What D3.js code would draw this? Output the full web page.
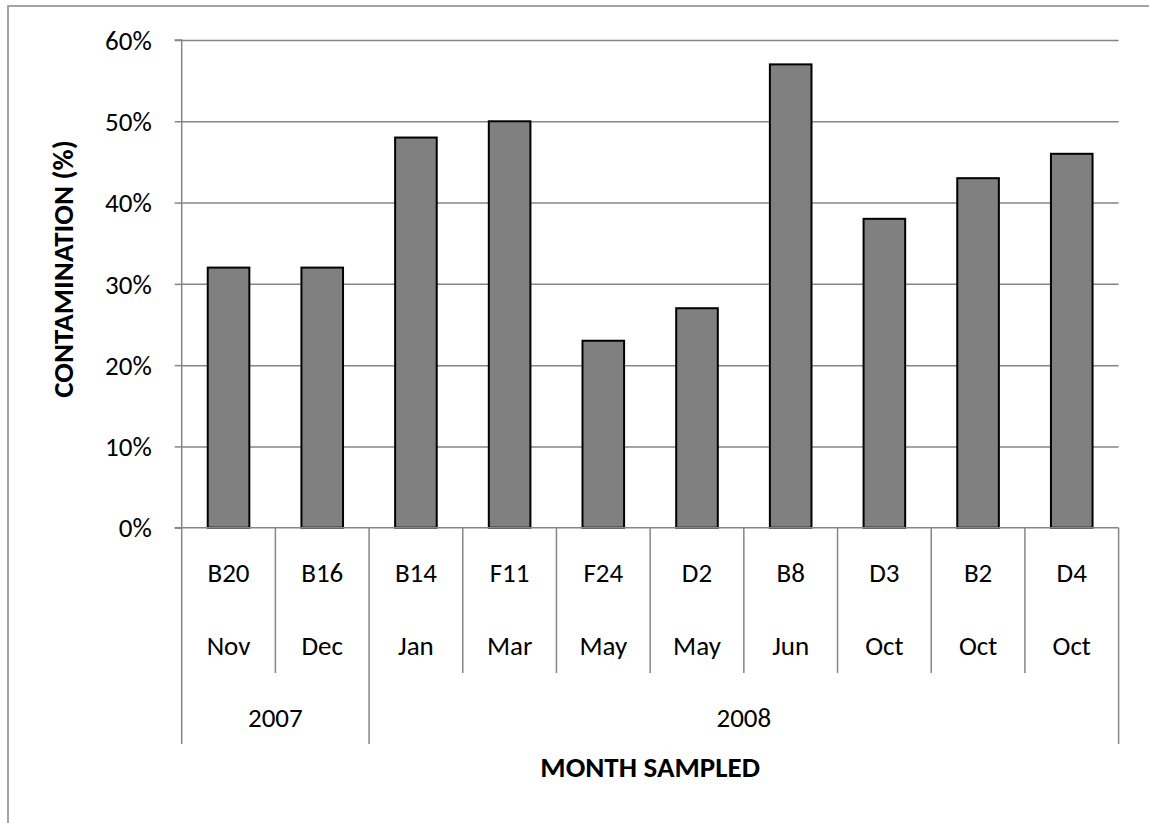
<!DOCTYPE html>
<html>
<head>
<meta charset="utf-8">
<script src="https://cdn.jsdelivr.net/npm/d3@7"></script>
<style>
  html, body { margin: 0; padding: 0; background: #fff; }
  svg { display: block; }
  text { font-family: Carlito, Calibri, Lato, "Open Sans", sans-serif; fill: #000; }
</style>
</head>
<body>
<svg id="chart" width="1149" height="823"></svg>
<script>
// ---- data ----
const sites = ["B20", "B16", "B14", "F11", "F24", "D2", "B8", "D3", "B2", "D4"];
const months = ["Nov", "Dec", "Jan", "Mar", "May", "May", "Jun", "Oct", "Oct", "Oct"];
const years = ["2007", "2007", "2008", "2008", "2008", "2008", "2008", "2008", "2008", "2008"];
const contamination = [0.32, 0.32, 0.48, 0.50, 0.23, 0.27, 0.57, 0.38, 0.43, 0.46];
const yTicks = [0, 0.1, 0.2, 0.3, 0.4, 0.5, 0.6];
const yTitle = "CONTAMINATION (%)";
const xTitle = "MONTH SAMPLED";

// ---- layout ----
const W = 1149, H = 823;
const plot = { left: 181.7, right: 1118.6, top: 40, bottom: 527.7 };
const gridColor = "#868686";
const fs = "27px", fsBold = "29px";

const svg = d3.select("#chart");
svg.append("rect").attr("width", W).attr("height", H).attr("fill", "#fff");

// outer chart border (extends past right/bottom edges)
svg.append("rect")
  .attr("x", 8).attr("y", 6).attr("width", 1300).attr("height", 1000)
  .attr("fill", "none").attr("stroke", gridColor).attr("stroke-width", 1.5);

const idx = d3.range(sites.length);
const x = d3.scaleBand().domain(idx).range([plot.left, plot.right])
  .paddingInner(0.556).paddingOuter(0.278);
const step = x.step();
const y = d3.scaleLinear().domain([0, 0.6]).range([plot.bottom, plot.top]);

// gridlines
const grid = svg.append("g").attr("transform", `translate(${plot.left},0)`)
  .call(d3.axisLeft(y).tickValues(yTicks.filter(d => d > 0)).tickSize(-(plot.right - plot.left)).tickFormat(""));
grid.select(".domain").remove();
grid.selectAll("line").attr("stroke", gridColor).attr("stroke-width", 1.5);

// y axis
const yAxis = svg.append("g").attr("transform", `translate(${plot.left},0)`)
  .call(d3.axisLeft(y).tickValues(yTicks).tickSize(7).tickPadding(23).tickFormat(d3.format(".0%")));
yAxis.select(".domain").attr("stroke", gridColor).attr("stroke-width", 1.5).attr("d", `M-7,${plot.top}H0V${plot.bottom}H-7`);
yAxis.selectAll(".tick line").attr("stroke", gridColor).attr("stroke-width", 1.5);
yAxis.selectAll(".tick text")
  .style("font-family", "Carlito, Calibri, Lato, sans-serif")
  .style("font-size", fs).attr("fill", "#000").attr("dy", "0.34em");

// bars
svg.append("g").selectAll("rect").data(idx).join("rect")
  .attr("x", i => x(i))
  .attr("width", x.bandwidth())
  .attr("y", i => y(contamination[i]))
  .attr("height", i => y(0) - y(contamination[i]))
  .attr("fill", "#808080")
  .attr("stroke", "#000")
  .attr("stroke-width", 2);

// x axis baseline
svg.append("line")
  .attr("x1", plot.left).attr("x2", plot.right)
  .attr("y1", plot.bottom).attr("y2", plot.bottom)
  .attr("stroke", gridColor).attr("stroke-width", 1.5);

// category boundaries for multi-level axis
const row1Y = 573, row2Y = 646, row3Y = 718;
const innerBottom = 673, outerBottom = 744;
const bx = i => plot.left + i * step;
const bounds = d3.range(sites.length + 1);
svg.append("g").selectAll("line").data(bounds).join("line")
  .attr("x1", i => bx(i)).attr("x2", i => bx(i))
  .attr("y1", plot.bottom)
  .attr("y2", i => (i === 0 || i === sites.length || years[i] !== years[i - 1]) ? outerBottom : innerBottom)
  .attr("stroke", gridColor).attr("stroke-width", 1.5);

const catText = svg.append("g").style("font-size", fs).attr("text-anchor", "middle");
catText.selectAll("text.site").data(idx).join("text").attr("class", "site")
  .attr("x", i => x(i) + x.bandwidth() / 2).attr("y", row1Y).attr("dy", "0.35em")
  .text(i => sites[i]);
catText.selectAll("text.month").data(idx).join("text").attr("class", "month")
  .attr("x", i => x(i) + x.bandwidth() / 2).attr("y", row2Y).attr("dy", "0.35em")
  .text(i => months[i]);

// year groups
const yearGroups = [];
idx.forEach(i => {
  const last = yearGroups[yearGroups.length - 1];
  if (last && last.year === years[i]) last.end = i + 1;
  else yearGroups.push({ year: years[i], start: i, end: i + 1 });
});
catText.selectAll("text.year").data(yearGroups).join("text").attr("class", "year")
  .attr("x", g => (bx(g.start) + bx(g.end)) / 2).attr("y", row3Y).attr("dy", "0.35em")
  .text(g => g.year);

// axis titles
svg.append("text")
  .attr("x", (plot.left + plot.right) / 2).attr("y", 767).attr("dy", "0.35em")
  .attr("text-anchor", "middle").style("font-size", fsBold).style("font-weight", "bold")
  .text(xTitle);
svg.append("text")
  .attr("transform", "translate(63,269) rotate(-90)")
  .attr("dy", "0.35em")
  .attr("text-anchor", "middle").style("font-size", fsBold).style("font-weight", "bold")
  .text(yTitle);
</script>
</body>
</html>
